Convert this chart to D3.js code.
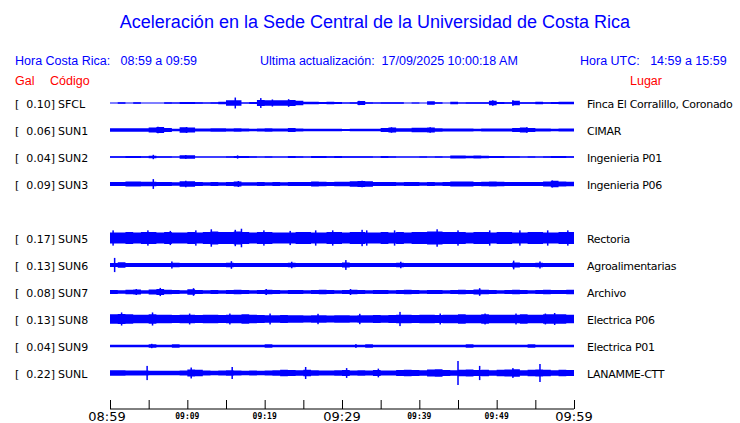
<!DOCTYPE html>
<html><head><meta charset="utf-8">
<script src="https://cdn.jsdelivr.net/npm/d3@7"></script>
<style>body{margin:0;background:#fff}svg{display:block}</style>
</head><body><div id="chart"></div>
<script>
// ---------- data ----------
const titleText = "Aceleración en la Sede Central de la Universidad de Costa Rica";
const horaCR = "Hora Costa Rica:   08:59 a 09:59";
const updated = "Ultima actualización:  17/09/2025 10:00:18 AM";
const horaUTC = "Hora UTC:   14:59 a 15:59";

const slots  = [0, 1, 2, 3, 5, 6, 7, 8, 9, 10];
const codes  = ["SFCL", "SUN1", "SUN2", "SUN3", "SUN5", "SUN6", "SUN7", "SUN8", "SUN9", "SUNL"];
const peaks  = [0.10, 0.06, 0.04, 0.09, 0.17, 0.13, 0.08, 0.13, 0.04, 0.22];
const places = ["Finca El Corralillo, Coronado", "CIMAR", "Ingenieria P01", "Ingenieria P06",
                "Rectoria", "Agroalimentarias", "Archivo", "Electrica P06", "Electrica P01", "LANAMME-CTT"];

const tickMinutes = [0,5,10,15,20,25,30,35,40,45,50,55,60];
const tickLabels  = {0:"08:59",10:"09:09",20:"09:19",30:"09:29",40:"09:39",50:"09:49",60:"09:59"};
const majorLabels = [0, 30, 60];

// per-minute envelope (half amplitude, Gal)
const envSFCL = [0,0.012,0,0.012,0,0,0,0.012,0.01,0.018,0.018,0.012,0.01,0.012,0.025,0.05,0.05,0.01,0.02,0.055,0.05,0.05,0.05,0.055,0.04,0.025,0.025,0.02,0.025,0.02,0.01,0.012,0.035,0.012,0.01,0.015,0.015,0.012,0,0.01,0,0.03,0.015,0,0.025,0.01,0.015,0.012,0.012,0.04,0.02,0.015,0.04,0.015,0.015,0.025,0.015,0.02,0.025,0.025];
const envSUN1 = [0.03,0.03,0.03,0.03,0.03,0.045,0.055,0.035,0.025,0.05,0.045,0.028,0.028,0.03,0.03,0.028,0.03,0.028,0.025,0.028,0.03,0.028,0.028,0.035,0.028,0.025,0.025,0.025,0.025,0.022,0.02,0.022,0.025,0.022,0.025,0.035,0.045,0.03,0.03,0.04,0.04,0.045,0.03,0.028,0.028,0.028,0.028,0.025,0.028,0.028,0.028,0.028,0.035,0.045,0.035,0.028,0.028,0.025,0.028,0.028];
const envSUN2 = [0.012,0.015,0.02,0.02,0.015,0.025,0.012,0.012,0.01,0.03,0.03,0.008,0.01,0.008,0.01,0.015,0.02,0.02,0.015,0.008,0.012,0.01,0.01,0.02,0.015,0.008,0.02,0.02,0.015,0.02,0.015,0.015,0.015,0.012,0.008,0.018,0.015,0.008,0.01,0.01,0.012,0.01,0.012,0.01,0.028,0.028,0.025,0.028,0.025,0.02,0.018,0.015,0.015,0.01,0.015,0.01,0.012,0.02,0.018,0.012];
const envSUN3 = [0.035,0.035,0.045,0.045,0.04,0.04,0.035,0.035,0.03,0.05,0.05,0.035,0.03,0.035,0.03,0.035,0.045,0.03,0.03,0.035,0.03,0.035,0.03,0.035,0.035,0.035,0.045,0.04,0.035,0.04,0.04,0.05,0.055,0.05,0.035,0.035,0.035,0.03,0.035,0.035,0.03,0.035,0.03,0.035,0.045,0.045,0.045,0.035,0.04,0.045,0.04,0.035,0.035,0.035,0.035,0.035,0.045,0.06,0.045,0.04];
const envSUN5 = [0.10,0.10,0.11,0.10,0.11,0.11,0.10,0.11,0.10,0.10,0.11,0.10,0.11,0.12,0.11,0.11,0.12,0.11,0.10,0.11,0.11,0.10,0.10,0.10,0.11,0.11,0.10,0.10,0.11,0.11,0.10,0.11,0.11,0.10,0.10,0.11,0.10,0.11,0.10,0.11,0.11,0.12,0.12,0.11,0.11,0.11,0.10,0.11,0.11,0.10,0.11,0.11,0.10,0.10,0.11,0.11,0.10,0.10,0.11,0.11];
const envSUN6 = [0.035,0.05,0.035,0.035,0.035,0.035,0.035,0.035,0.04,0.035,0.035,0.035,0.035,0.035,0.035,0.04,0.035,0.035,0.035,0.035,0.035,0.035,0.035,0.04,0.035,0.035,0.035,0.035,0.035,0.035,0.045,0.035,0.035,0.035,0.035,0.035,0.035,0.04,0.035,0.035,0.035,0.035,0.035,0.035,0.035,0.035,0.035,0.035,0.035,0.035,0.035,0.035,0.045,0.035,0.035,0.04,0.035,0.035,0.035,0.035];
const envSUN7 = [0.035,0.03,0.04,0.045,0.03,0.045,0.055,0.04,0.035,0.03,0.05,0.035,0.03,0.035,0.03,0.035,0.04,0.035,0.03,0.035,0.04,0.035,0.03,0.035,0.035,0.03,0.035,0.04,0.035,0.03,0.035,0.04,0.035,0.03,0.035,0.035,0.03,0.035,0.04,0.035,0.03,0.035,0.035,0.03,0.035,0.04,0.035,0.045,0.04,0.035,0.03,0.035,0.04,0.035,0.03,0.035,0.04,0.035,0.035,0.04];
const envSUN8 = [0.085,0.09,0.085,0.08,0.08,0.085,0.08,0.08,0.075,0.08,0.08,0.075,0.08,0.08,0.075,0.08,0.08,0.085,0.08,0.075,0.07,0.07,0.075,0.07,0.07,0.065,0.07,0.07,0.065,0.07,0.07,0.065,0.07,0.07,0.075,0.07,0.075,0.08,0.08,0.075,0.08,0.08,0.075,0.08,0.08,0.085,0.08,0.08,0.085,0.08,0.08,0.08,0.08,0.085,0.08,0.08,0.085,0.085,0.085,0.08];
const envSUN9 = [0.025,0.025,0.025,0.025,0.025,0.032,0.025,0.025,0.03,0.025,0.025,0.025,0.025,0.025,0.025,0.025,0.025,0.025,0.025,0.025,0.03,0.025,0.025,0.025,0.025,0.025,0.025,0.025,0.025,0.025,0.025,0.025,0.025,0.03,0.025,0.025,0.025,0.025,0.025,0.025,0.025,0.025,0.025,0.025,0.025,0.025,0.03,0.025,0.025,0.025,0.025,0.025,0.025,0.025,0.03,0.025,0.025,0.025,0.025,0.025];
const envSUNL = [0.05,0.05,0.045,0.045,0.045,0.04,0.04,0.04,0.04,0.045,0.065,0.06,0.045,0.04,0.045,0.05,0.045,0.04,0.045,0.04,0.045,0.05,0.06,0.055,0.05,0.06,0.05,0.045,0.045,0.05,0.055,0.045,0.05,0.045,0.055,0.045,0.045,0.055,0.06,0.055,0.05,0.065,0.07,0.055,0.05,0.06,0.065,0.055,0.06,0.05,0.06,0.065,0.07,0.05,0.06,0.065,0.06,0.05,0.06,0.055];

// isolated spikes: [minute, half amplitude Gal]
const spkSFCL = [[16.2,0.10],[19.5,0.09],[23.1,0.07],[21.0,0.065],[32.2,0.04],[49.5,0.05],[52.1,0.05]];
const spkSUN1 = [[6.2,0.06],[9.9,0.055],[36.4,0.05],[41.4,0.05],[53.9,0.05]];
const spkSUN2 = [[5.6,0.04],[9.8,0.035],[16.5,0.03]];
const spkSUN3 = [[5.6,0.09],[9.8,0.06],[16.6,0.055],[32.6,0.06],[57.2,0.065]];
const spkSUN5 = [[0.4,0.14],[4.9,0.14],[7.8,0.13],[11.1,0.14],[13.1,0.16],[16.2,0.15],[17.0,0.17],[19.9,0.14],[23.3,0.13],[26.6,0.14],[28.8,0.14],[32.6,0.15],[33.2,0.14],[36.8,0.14],[42.3,0.16],[45.0,0.14],[49.1,0.14],[53.0,0.14],[56.6,0.14],[59.2,0.14]];
const spkSUN6 = [[0.6,0.13],[8.0,0.065],[15.7,0.07],[23.5,0.06],[30.5,0.09],[37.6,0.06],[52.2,0.08],[55.6,0.065]];
const spkSUN7 = [[3.4,0.055],[6.5,0.075],[10.8,0.07],[20.2,0.055],[31.1,0.055],[47.8,0.07]];
const spkSUN8 = [[1.5,0.12],[5.5,0.12],[10.3,0.1],[15.5,0.1],[20.7,0.1],[26.9,0.095],[32.3,0.095],[37.5,0.13],[42.7,0.1],[48.5,0.1],[52.5,0.10],[56.3,0.1],[57.5,0.11]];
const spkSUN9 = [[5.4,0.04],[31.8,0.035]];
const spkSUNL = [[4.8,0.13],[10.5,0.10],[15.8,0.11],[25.3,0.11],[30.6,0.09],[34.7,0.08],[45.0,0.22],[47.8,0.13],[52.1,0.09],[55.6,0.165]];

const envs   = [envSFCL, envSUN1, envSUN2, envSUN3, envSUN5, envSUN6, envSUN7, envSUN8, envSUN9, envSUNL];
const spikes = [spkSFCL, spkSUN1, spkSUN2, spkSUN3, spkSUN5, spkSUN6, spkSUN7, spkSUN8, spkSUN9, spkSUNL];

// ---------- drawing ----------
const W = 740, H = 423;
const BLUE = "#0000ff", RED = "#ff0000";
const svg = d3.select("#chart").append("svg").attr("width", W).attr("height", H);

const x = d3.scaleLinear().domain([0, 60]).range([110, 574]);
const rowY = d3.scaleLinear().domain([0, 10]).range([103, 373]);
const amp = d3.scaleLinear().domain([0, 0.22]).range([0, 12]);

const sans = "'Liberation Sans', Arial, Helvetica, sans-serif";
const dv = "'DejaVu Sans', sans-serif";

svg.append("text").attr("x", 375).attr("y", 28).attr("text-anchor", "middle")
  .attr("font-family", sans).attr("font-size", 18).attr("fill", BLUE).text(titleText);

const hdr = [[15, horaCR], [260, updated], [580, horaUTC]];
svg.selectAll("text.hdr").data(hdr).enter().append("text").attr("class", "hdr")
  .attr("x", d => d[0]).attr("y", 65).attr("font-family", sans).attr("font-size", 12.5)
  .attr("fill", BLUE).style("white-space", "pre").attr("xml:space", "preserve").text(d => d[1]);

const red = [[15, "Gal"], [50, "Código"], [630, "Lugar"]];
svg.selectAll("text.red").data(red).enter().append("text").attr("class", "red")
  .attr("x", d => d[0]).attr("y", 85).attr("font-family", sans).attr("font-size", 12.5)
  .attr("fill", RED).text(d => d[1]);

const area = d3.area().curve(d3.curveStepAfter)
  .x(d => x(d.t)).y0(d => -amp(d.a)).y1(d => amp(d.a));

codes.forEach((code, i) => {
  const cy = rowY(slots[i]);
  const g = svg.append("g").attr("transform", `translate(0,${cy})`);
  const pts = envs[i].map((a, t) => ({t, a}));
  pts.push({t: 60, a: envs[i][envs[i].length - 1]});
  g.append("line").attr("x1", x(0)).attr("x2", x(60)).attr("y1", 0).attr("y2", 0)
    .attr("stroke", BLUE).attr("stroke-width", 1.2);
  g.append("path").attr("d", area(pts)).attr("fill", BLUE);
  g.selectAll("rect.spk").data(spikes[i]).enter().append("rect")
    .attr("x", d => x(d[0]) - 0.75).attr("width", 1.5)
    .attr("y", d => -amp(d[1])).attr("height", d => 2 * amp(d[1])).attr("fill", BLUE);

  const ty = cy + 4.5;
  svg.append("text").attr("x", 15).attr("y", ty).attr("font-family", dv).attr("font-size", 11).text("[");
  svg.append("text").attr("x", 55).attr("y", ty).attr("text-anchor", "end").attr("font-family", dv)
    .attr("font-size", 11).text(peaks[i].toFixed(2) + "]");
  svg.append("text").attr("x", 58).attr("y", ty).attr("font-family", dv).attr("font-size", 11).text(code);
  svg.append("text").attr("x", 587).attr("y", ty).attr("font-family", dv).attr("font-size", 11)
    .attr("letter-spacing", -0.3).text(places[i]);
});

// axis
const axisY = 409;
const axis = d3.axisTop(x).tickValues(tickMinutes).tickSize(9).tickFormat("");
const ag = svg.append("g").attr("transform", `translate(0,${axisY})`).call(axis);
ag.select(".domain").attr("d", `M${x(0)},0H${x(60)}`).attr("stroke", "#000");
ag.selectAll(".tick line").attr("stroke", "#000");

svg.selectAll("text.tl").data(Object.keys(tickLabels).map(Number)).enter().append("text")
  .attr("class", "tl")
  .attr("x", d => x(d) - (d === 0 ? 3 : 0)).attr("text-anchor", "middle")
  .attr("y", d => majorLabels.includes(d) ? 421 : 418.5)
  .attr("font-family", d => majorLabels.includes(d) ? dv : "'DejaVu Sans Mono', monospace")
  .attr("font-weight", d => majorLabels.includes(d) ? "normal" : "bold")
  .attr("font-size", d => majorLabels.includes(d) ? 13 : 8)
  .text(d => tickLabels[d]);
</script></body></html>
